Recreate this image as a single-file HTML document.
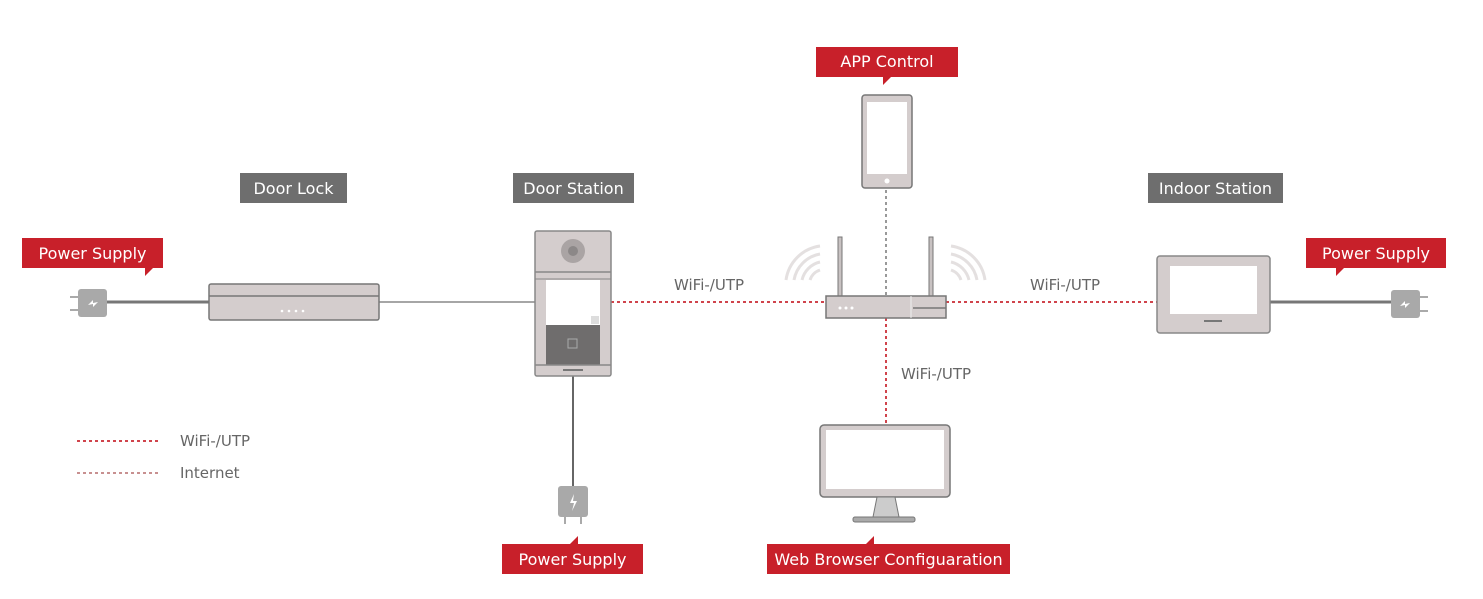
<!DOCTYPE html>
<html><head><meta charset="utf-8"><style>
body{margin:0;background:#fff;}
svg{display:block;font-family:"DejaVu Sans","Liberation Sans",sans-serif;}
</style></head><body>
<svg width="1483" height="599" viewBox="0 0 1483 599" xmlns="http://www.w3.org/2000/svg">
<!-- connectors -->
<line x1="107" y1="302" x2="209" y2="302" stroke="#777" stroke-width="3"/>
<line x1="379" y1="302" x2="535" y2="302" stroke="#888" stroke-width="1.5"/>
<line x1="611" y1="302" x2="826" y2="302" stroke="#d0444c" stroke-width="2" stroke-dasharray="3,3"/>
<line x1="946" y1="302" x2="1157" y2="302" stroke="#d0444c" stroke-width="2" stroke-dasharray="3,3"/>
<line x1="1270" y1="302" x2="1392" y2="302" stroke="#777" stroke-width="3"/>
<line x1="886" y1="190" x2="886" y2="296" stroke="#999" stroke-width="2" stroke-dasharray="3,3"/>
<line x1="886" y1="318" x2="886" y2="425" stroke="#d0444c" stroke-width="2" stroke-dasharray="3,3"/>
<line x1="573" y1="376" x2="573" y2="488" stroke="#666" stroke-width="2"/>

<!-- left plug -->
<rect x="78" y="289" width="29" height="28" rx="3" fill="#a9a9a9"/>
<line x1="70" y1="297" x2="78" y2="297" stroke="#aaa" stroke-width="2"/>
<line x1="70" y1="310" x2="78" y2="310" stroke="#aaa" stroke-width="2"/>
<path d="M88 305 l5 -5 v3 l5 -1 l-5 5 v-3z" fill="#fff"/>
<!-- right plug -->
<rect x="1391" y="290" width="29" height="28" rx="3" fill="#a9a9a9"/>
<line x1="1420" y1="297" x2="1428" y2="297" stroke="#aaa" stroke-width="2"/>
<line x1="1420" y1="311" x2="1428" y2="311" stroke="#aaa" stroke-width="2"/>
<path d="M1400 306 l5 -5 v3 l5 -1 l-5 5 v-3z" fill="#fff"/>
<!-- bottom plug -->
<rect x="558" y="486" width="30" height="31" rx="3" fill="#a9a9a9"/>
<line x1="565" y1="517" x2="565" y2="524" stroke="#aaa" stroke-width="2"/>
<line x1="581" y1="517" x2="581" y2="524" stroke="#aaa" stroke-width="2"/>
<path d="M574 494 l-4 9 h4 l-2 8 l5 -10 h-4z" fill="#fff"/>

<!-- door lock -->
<rect x="209" y="284" width="170" height="36" rx="2" fill="#d4cdcd" stroke="#777" stroke-width="1.5"/>
<line x1="209" y1="296" x2="379" y2="296" stroke="#777" stroke-width="1.5"/>
<g fill="#fff"><circle cx="282" cy="311" r="1.3"/><circle cx="289" cy="311" r="1.3"/><circle cx="296" cy="311" r="1.3"/><circle cx="303" cy="311" r="1.3"/></g>

<!-- door station -->
<rect x="535" y="231" width="76" height="145" rx="2" fill="#d4cdcd" stroke="#888" stroke-width="1.5"/>
<line x1="535" y1="272" x2="611" y2="272" stroke="#888" stroke-width="1.5"/>
<line x1="535" y1="279" x2="611" y2="279" stroke="#888" stroke-width="1"/>
<circle cx="573" cy="251" r="12" fill="#aaa4a4"/><circle cx="573" cy="251" r="5" fill="#8c8888"/>
<rect x="546" y="280" width="54" height="45" fill="#fff"/>
<rect x="591" y="316" width="8" height="8" fill="#ddd"/>
<rect x="546" y="325" width="54" height="40" fill="#6f6d6d"/>
<rect x="568" y="339" width="9" height="9" fill="none" stroke="#aaa" stroke-width="1"/>
<line x1="535" y1="365" x2="611" y2="365" stroke="#888" stroke-width="1.5"/>
<rect x="563" y="369" width="20" height="2" fill="#777"/>

<!-- router -->
<g fill="none" stroke="#e4e0e0" stroke-width="3">
<path d="M820 246 A40 40 0 0 0 786 280"/><path d="M820 254 A32 32 0 0 0 794 280"/><path d="M820 262 A24 24 0 0 0 802 280"/><path d="M820 270 A16 16 0 0 0 810 280"/>
<path d="M951 246 A40 40 0 0 1 985 280"/><path d="M951 254 A32 32 0 0 1 977 280"/><path d="M951 262 A24 24 0 0 1 969 280"/><path d="M951 270 A16 16 0 0 1 961 280"/>
</g>
<rect x="838" y="237" width="4" height="60" fill="#c8c2c2" stroke="#777" stroke-width="1"/>
<rect x="929" y="237" width="4" height="60" fill="#c8c2c2" stroke="#777" stroke-width="1"/>
<rect x="826" y="296" width="120" height="22" fill="#d4cdcd" stroke="#777" stroke-width="1.5"/>
<line x1="911" y1="296" x2="911" y2="318" stroke="#eee" stroke-width="1"/>
<line x1="913" y1="308" x2="946" y2="308" stroke="#777" stroke-width="1.5"/>
<g fill="#fff"><circle cx="840" cy="308" r="1.5"/><circle cx="846" cy="308" r="1.5"/><circle cx="852" cy="308" r="1.5"/></g>

<!-- phone -->
<rect x="862" y="95" width="50" height="93" rx="3" fill="#d4cdcd" stroke="#777" stroke-width="1.5"/>
<rect x="867" y="102" width="40" height="72" fill="#fff"/>
<circle cx="887" cy="181" r="2.5" fill="#fff"/>

<!-- monitor -->
<rect x="820" y="425" width="130" height="72" rx="4" fill="#d4cdcd" stroke="#777" stroke-width="1.5"/>
<rect x="826" y="430" width="118" height="59" fill="#fff"/>
<path d="M877 497 h18 l4 20 h-26z" fill="#ccc" stroke="#777" stroke-width="1"/>
<rect x="853" y="517" width="62" height="5" rx="2" fill="#aaa" stroke="#777" stroke-width="1"/>

<!-- indoor station -->
<rect x="1157" y="256" width="113" height="77" rx="3" fill="#d4cdcd" stroke="#888" stroke-width="1.5"/>
<rect x="1170" y="266" width="87" height="48" fill="#fff"/>
<rect x="1204" y="320" width="18" height="2" fill="#777"/>

<!-- line labels -->
<g font-size="15" fill="#666">
<text x="674" y="290">WiFi-/UTP</text>
<text x="1030" y="290">WiFi-/UTP</text>
<text x="901" y="379">WiFi-/UTP</text>
<text x="180" y="446">WiFi-/UTP</text>
<text x="180" y="478">Internet</text>
</g>
<line x1="77" y1="441" x2="158" y2="441" stroke="#d0444c" stroke-width="2" stroke-dasharray="3,3"/>
<line x1="77" y1="473" x2="158" y2="473" stroke="#c89090" stroke-width="2" stroke-dasharray="3,3"/>

<!-- gray labels -->
<g font-size="16" fill="#fff" text-anchor="middle">
<rect x="240" y="173" width="107" height="30" fill="#6e6e6e"/><text x="293.5" y="194">Door Lock</text>
<rect x="513" y="173" width="121" height="30" fill="#6e6e6e"/><text x="573.5" y="194">Door Station</text>
<rect x="1148" y="173" width="135" height="30" fill="#6e6e6e"/><text x="1215.5" y="194">Indoor Station</text>
</g>
<!-- red labels -->
<g font-size="16" fill="#fff" text-anchor="middle">
<rect x="22" y="238" width="141" height="30" fill="#c8202a"/><path d="M145 268 h8 l-8 8z" fill="#c8202a"/><text x="92.5" y="259">Power Supply</text>
<rect x="1306" y="238" width="140" height="30" fill="#c8202a"/><path d="M1336 268 h8 l-8 8z" fill="#c8202a"/><text x="1376" y="259">Power Supply</text>
<rect x="816" y="47" width="142" height="30" fill="#c8202a"/><path d="M883 77 h8 l-8 8z" fill="#c8202a"/><text x="887" y="67">APP Control</text>
<rect x="502" y="544" width="141" height="30" fill="#c8202a"/><path d="M570 544 h8 v-8z" fill="#c8202a"/><text x="572.5" y="565">Power Supply</text>
<rect x="767" y="544" width="243" height="30" fill="#c8202a"/><path d="M866 544 h8 v-8z" fill="#c8202a"/><text x="888.5" y="565">Web Browser Configuaration</text>
</g>
</svg>
</body></html>
